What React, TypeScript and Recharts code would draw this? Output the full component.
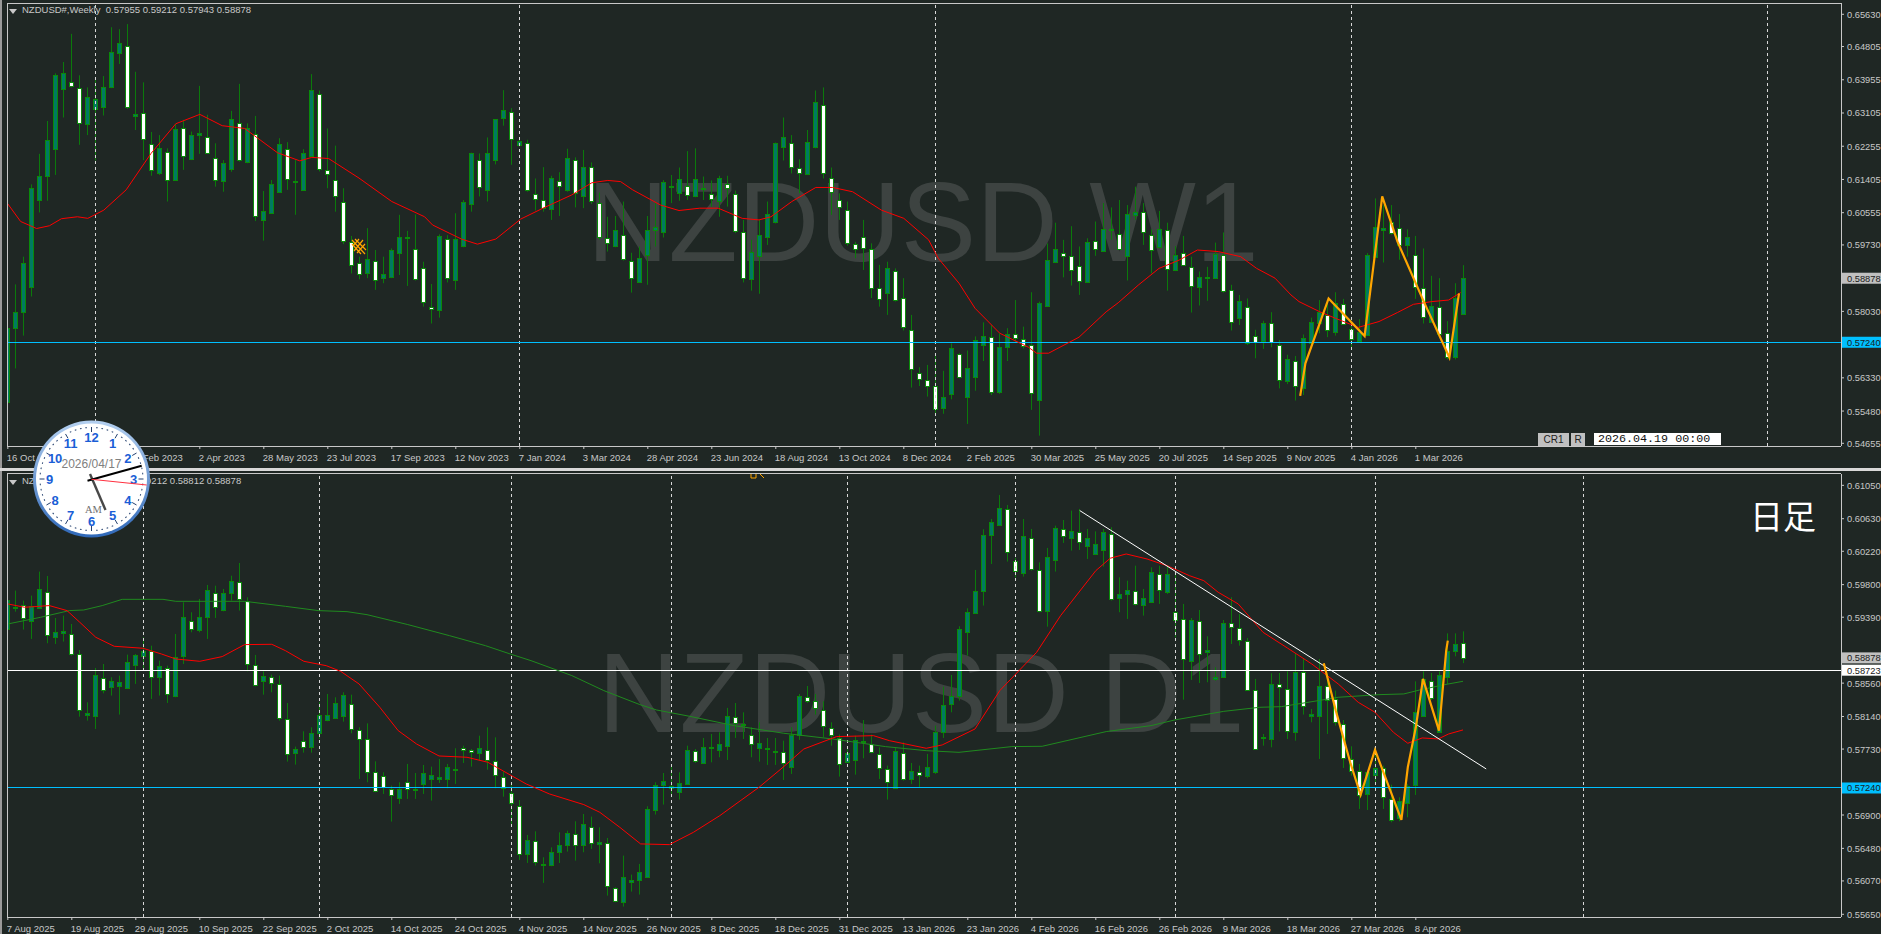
import React from "react";
import { Bar, ComposedChart, Line, ReferenceLine, XAxis, YAxis } from "recharts";

// all quotes below are in points: weekly 1e-4, daily 1e-5. [open, high, low, close]
const weeklyQuotes = [
  [5572,5771,5551,5760],[5760,5872,5657,5802],[5802,5943,5741,5926],[5865,6128,5841,6118],[6088,6206,6056,6150],[6150,6290,6086,6241],[6218,6412,6152,6407],[6371,6441,6299,6412],
  [6390,6513,6376,6380],[6375,6407,6229,6285],[6282,6376,6254,6351],[6320,6395,6189,6346],[6325,6405,6304,6378],[6376,6530,6374,6467],[6463,6525,6436,6489],[6483,6538,6321,6325],
  [6304,6416,6267,6307],[6311,6389,6190,6244],[6230,6262,6150,6165],[6156,6254,6152,6220],[6212,6220,6084,6139],[6138,6283,6137,6269],[6271,6293,6165,6200],[6192,6263,6190,6253],
  [6253,6380,6206,6259],[6248,6306,6206,6208],[6196,6233,6122,6139],[6136,6190,6109,6182],[6168,6316,6160,6295],[6285,6385,6186,6190],[6186,6284,6182,6273],[6257,6303,6034,6047],
  [6036,6111,5984,6059],[6054,6139,6052,6128],[6109,6246,6107,6232],[6219,6236,6114,6142],[6133,6190,6050,6136],[6113,6218,6111,6207],[6201,6410,6199,6369],[6360,6368,6161,6167],
  [6165,6271,6118,6154],[6139,6227,6058,6097],[6084,6118,5975,5983],[5981,5996,5900,5922],[5928,5943,5885,5899],[5902,6016,5888,5936],[5933,5960,5858,5883],[5889,5943,5875,5898],
  [5892,5964,5888,5959],[5953,6050,5896,5994],[5994,6009,5868,5990],[5963,6051,5882,5885],[5915,5930,5815,5826],[5814,5873,5772,5809],[5807,6000,5787,5995],[5989,5998,5877,5888],
  [5883,6054,5858,5987],[5970,6088,5967,6082],[6077,6209,6058,6207],[6189,6207,6097,6122],[6113,6248,6084,6207],[6191,6295,6179,6294],[6297,6369,6278,6318],[6314,6323,6178,6244],
  [6228,6242,6225,6238],[6235,6242,6109,6114],[6104,6143,6061,6091],[6088,6172,6058,6068],[6065,6150,6037,6145],[6137,6159,6047,6124],[6113,6219,6109,6195],[6191,6197,6069,6107],
  [6097,6216,6067,6173],[6173,6184,6078,6086],[6081,6107,5986,5994],[5991,6045,5956,5977],[5970,6047,5967,6010],[5999,6084,5933,5937],[5932,5953,5851,5889],[5879,5969,5879,5939],
  [5947,6047,5871,6010],[6010,6080,5969,6018],[6005,6139,5992,6133],[6125,6152,6080,6121],[6107,6171,6086,6141],[6124,6213,6088,6100],[6097,6220,6095,6141],[6116,6148,6088,6119],
  [6104,6138,6071,6091],[6085,6150,6045,6143],[6129,6150,6071,6119],[6104,6112,6003,6009],[6007,6037,5877,5888],[5885,5986,5856,5956],[5945,6037,5848,5998],[5994,6084,5973,6051],
  [6031,6235,6028,6233],[6223,6299,6189,6248],[6235,6254,6156,6172],[6171,6192,6105,6156],[6154,6267,6152,6236],[6223,6368,6220,6338],[6332,6376,6143,6156],[6145,6171,6050,6109],
  [6089,6105,6037,6069],[6063,6084,5971,5977],[5976,5981,5939,5962],[5994,6037,5909,5964],[5963,5977,5837,5863],[5864,5922,5815,5834],[5851,5930,5794,5915],[5907,5913,5828,5832],
  [5836,5888,5754,5763],[5756,5794,5608,5656],[5646,5660,5612,5629],[5628,5666,5585,5612],[5613,5696,5542,5553],[5555,5651,5541,5583],[5591,5721,5578,5709],[5693,5696,5632,5635],
  [5583,5703,5515,5657],[5636,5739,5600,5729],[5716,5775,5676,5739],[5738,5768,5589,5596],[5598,5747,5592,5711],[5711,5760,5676,5744],[5744,5832,5725,5734],[5733,5764,5708,5715],
  [5716,5852,5551,5594],[5576,5828,5485,5824],[5818,5977,5814,5934],[5930,6030,5930,5962],[5953,5986,5890,5944],[5945,6021,5869,5908],[5920,5969,5845,5881],[5879,5990,5877,5981],
  [5984,6033,5945,5962],[5958,6080,5956,6013],[6011,6069,5986,6014],[6002,6088,5960,5963],[5944,6075,5882,6051],[6049,6122,6037,6057],[6057,6080,5973,6005],[5999,6013,5900,5959],
  [5967,6060,5964,6015],[6010,6030,5856,5911],[5908,5970,5906,5947],[5953,5996,5919,5922],[5917,5943,5800,5868],[5865,5905,5818,5890],[5889,5917,5830,5891],[5889,5979,5888,5951],
  [5947,6005,5851,5854],[5858,5871,5754,5775],[5785,5845,5768,5830],[5815,5836,5717,5723],[5741,5756,5683,5724],[5728,5779,5707,5772],[5772,5801,5711,5724],[5718,5730,5606,5627],
  [5626,5692,5617,5680],[5677,5689,5575,5612],[5606,5744,5589,5734],[5723,5787,5717,5775],[5774,5832,5747,5802],[5794,5828,5737,5756],[5749,5852,5741,5825],[5822,5835,5768,5771],
  [5758,5779,5710,5732],[5726,5783,5724,5751],[5743,5952,5741,5946],[5943,6092,5941,6020],[6010,6075,5928,6016],[6032,6075,5999,6003],[6016,6052,5935,5973],[5973,6013,5943,5993],
  [5946,5996,5835,5866],[5864,5964,5772,5788],[5777,5894,5774,5817],[5815,5888,5738,5745],[5747,5778,5680,5686],[5687,5875,5680,5837],[5795.5,5921.2,5794.3,5887.8],
];

const dailyQuotes = [
  [59242,59620,59229,59607],[59523,59725,59460,59506],[59544,59599,59234,59376],[59338,59662,59116,59536],[59506,59964,59494,59741],[59712,59909,59062,59162],[59137,59380,59053,59200],[59187,59410,59083,59213],
  [59179,59305,58906,58923],[58931,58978,58138,58222],[58164,58319,58088,58180],[58143,58751,57983,58659],[58629,58801,58432,58470],[58508,58634,58403,58592],[58520,58655,58164,58571],[58495,58919,58487,58822],
  [58785,58927,58550,58910],[58906,59137,58717,58961],[58969,59032,58361,58634],[58634,58843,58403,58772],[58747,58780,58310,58420],[58394,59179,58382,58894],[58906,59578,58801,59389],[59347,59452,59200,59242],
  [59234,59620,59200,59389],[59397,59796,59116,59729],[59699,59787,59380,59519],[59477,59746,59464,59691],[59691,59913,59599,59842],[59829,60073,59473,59615],[59594,59641,58709,58801],[58793,58915,58520,58537],
  [58587,58709,58415,58646],[58642,58667,58445,58562],[58550,58655,58088,58117],[58109,58310,57572,57669],[57677,57761,57534,57727],[57836,57954,57685,57757],[57761,58004,57685,57929],[57937,58319,57857,58155],
  [58092,58424,58080,58155],[58126,58382,58109,58306],[58151,58445,58075,58407],[58298,58415,57929,57983],[57975,58004,57354,57857],[57861,58054,57312,57442],[57442,57576,57186,57203],[57396,57438,57165,57253],
  [57228,57270,56817,57152],[57110,57312,57039,57228],[57320,57543,57102,57232],[57211,57429,57102,57228],[57287,57530,57165,57425],[57358,57509,57081,57400],[57350,57605,57303,57375],[57350,57543,57236,57509],
  [57463,57740,57291,57476],[57748,57773,57555,57715],[57715,57731,57509,57694],[57685,57899,57585,57748],[57723,58004,57471,57589],[57585,57878,57236,57400],[57383,57450,57131,57236],[57182,57291,56787,57052],
  [57018,57089,56334,56410],[56410,56649,56296,56590],[56578,56695,56263,56305],[56288,56368,56045,56267],[56267,56493,56255,56431],[56431,56682,56296,56519],[56519,56703,56439,56670],[56666,56821,56326,56523],
  [56519,56913,56431,56783],[56754,56880,56473,56548],[56540,56745,56292,56557],[56552,56611,55885,56003],[55986,55990,55801,55818],[55801,56389,55747,56116],[56053,56150,55936,56078],[56087,56284,55898,56179],
  [56124,57010,56116,56976],[56968,57312,56905,57274],[57274,57429,57031,57324],[57245,57513,57123,57261],[57186,57438,57094,57299],[57291,57773,57282,57715],[57710,57731,57555,57576],[57551,57870,57543,57752],
  [57748,57920,57563,57757],[57723,57941,57627,57790],[57773,58248,57593,58143],[58138,58310,57870,58063],[58050,58193,57857,58034],[57912,58004,57627,57790],[57748,58067,57572,57803],[57748,57870,57530,57727],
  [57689,57870,57530,57702],[57698,57836,57341,57551],[57501,58004,57417,57912],[57912,58424,57845,58394],[58390,58524,58310,58331],[58340,58424,58164,58243],[58227,58331,57878,58017],[58000,58067,57773,57903],
  [57870,57912,57383,57543],[57572,57744,57555,57685],[57589,57899,57408,57849],[57824,58096,57614,57832],[57790,57912,57677,57694],[57673,57752,57354,57492],[57484,57522,57094,57312],[57245,57752,57236,57702],
  [57685,57815,57333,57350],[57350,57555,57291,57459],[57446,57522,57241,57404],[57396,57669,57362,57509],[57438,58025,57417,57950],[57941,58516,57870,58290],[58294,58663,58193,58399],[58403,59276,58340,59238],
  [59208,59502,58906,59460],[59439,59985,59431,59716],[59716,60497,59536,60421],[60421,60627,60060,60585],[60547,60929,60538,60761],[60757,60803,60090,60211],[60102,60136,59892,59972],[59943,60627,59901,60408],
  [60392,60501,59976,59997],[59985,60081,59452,59469],[59464,60262,59271,60153],[60106,60543,59964,60509],[60501,60614,60325,60413],[60383,60732,60228,60471],[60467,60753,60236,60337],[60291,60501,60123,60383],
  [60182,60471,60173,60308],[60232,60501,60027,60459],[60442,60522,59599,59620],[59628,59892,59452,59687],[59678,59850,59368,59729],[59725,60039,59536,59557],[59540,59746,59410,59636],[59586,60018,59578,59955],
  [59938,60039,59557,59729],[59712,60027,59683,59930],[59460,59955,59137,59351],[59372,59557,58352,58864],[58835,59380,58600,59359],[59347,59481,58562,58927],[58957,59150,58571,58973],[58617,58759,58592,58634],
  [58634,59355,58625,59322],[59322,59641,59053,59267],[59259,59431,59032,59104],[59095,59129,58466,58478],[58478,58613,57719,57727],[57887,57920,57773,57866],[57861,58684,57752,58545],[58545,58688,57951,58516],
  [58491,58709,57857,57954],[57950,58936,57836,58696],[58701,58864,58164,58268],[58151,58235,58067,58168],[58151,58864,57605,58520],[58529,58676,57920,58352],[58357,58466,58025,58067],[58046,58096,57492,57614],
  [57605,57765,57396,57450],[57459,57543,56976,57157],[57169,57459,56963,57438],[57408,57761,57291,57492],[57492,57522,56976,57123],[57106,57282,56808,56842],[56863,57123,56821,57073],[57056,57291,56871,57261],
  [57282,58583,57152,58201],[58151,58709,58147,58613],[58583,58688,58348,58369],[57950,58709,57941,58663],[58642,59187,58550,58969],[58969,59187,58898,59049],[59070,59212,58812,58878],
];

// [bar position, value]
const weeklyRedMa = [
  [0,6078],[1.6,6033],[3.6,6015],[5.2,6022],[6.7,6040],[8.7,6045],[10,6041],[12,6062],[14.8,6114],[17.9,6207],[21,6283],[24,6307],[26.8,6278],[29.6,6271],[33.7,6209],[36.5,6188],[38,6197],[40.1,6194],[43.9,6144],[48,6084],[52.1,6045],[53.1,6024],[56.7,5988],[58.7,5975],[61,5988],[64.1,6039],[66.9,6067],[70.5,6101],[73,6132],[75,6138],[76.6,6135],
  [78.1,6114],[81.6,6075],[83.9,6061],[86.5,6067],[88.8,6067],[91.8,6041],[93.9,6037],[95.4,6045],[98,6084],[101,6120],[103.1,6120],[105.6,6109],[109.2,6062],[112,6041],[115.1,5986],[116.3,5939],[118.9,5875],[120.9,5811],[124,5747],[127.6,5711],[128.6,5696],[130.1,5696],[133.9,5737],[137.3,5802],[138.8,5825],[141.3,5870],[143.9,5913],[146.4,5934],[148.7,5960],[151.3,5956],[154.1,5943],
  [156.1,5913],[158.4,5888],[160.4,5845],[161.4,5828],[164,5802],[166,5785],[168.8,5762],[171.4,5777],[173.7,5800],[175.7,5821],[178,5828],[180.1,5832],[181.6,5851],
];
const weeklyZigzag = [[161.55,5587],[162.2,5670],[165.1,5836],[169.6,5740],[171.8,6097],[173.7,5982],[177,5828],[180.2,5685],[181.4,5849]];

const dailyRedMa = [
  [0,59557],[2.1,59515],[5.2,59536],[7.4,59473],[9,59326],[11,59137],[13.3,59024],[16.9,58999],[19.2,58927],[21,58864],[24,58835],[26.8,58894],[29.6,59045],[33,59049],[34.7,58969],[37,58835],[39.8,58780],[41.6,58709],[43.9,58550],[46.5,58256],[48.8,57962],[51.1,57794],[53.9,57643],[57.4,57627],[60,57564],[62,57450],[64.8,57291],[67.7,57165],[72,57031],[74,56934],[76.5,56745],
  [79.1,56536],[82.7,56527],[85.7,56682],[89,56892],[93.9,57249],[96.9,57501],[99.5,57731],[103.6,57887],[108.2,57899],[110.2,57836],[114.8,57740],[116.8,57782],[120.9,57983],[124,58466],[128.6,58948],[131.6,59410],[136,59976],[137.8,60132],[139.8,60186],[142.4,60123],[144.9,60039],[147.7,59913],[149.5,59850],[151.3,59704],[153.8,59557],
  [156.9,59200],[160,58999],[163,58801],[166.3,58550],[168.8,58319],[170.9,58193],[173.2,57941],[175,57803],[176.8,57870],[178.8,57857],[180.1,57920],[181.9,57971],
];
const dailyGreenMa = [
  [0,59305],[4.1,59389],[7.7,59473],[9.5,59481],[11.8,59536],[14.3,59615],[19.4,59615],[21,59590],[29.6,59590],[34.7,59527],[38.8,59473],[42.4,59460],[44.9,59422],[50,59297],[55.2,59158],[59.7,59032],[62.8,58927],[65.4,58843],[70.5,58655],[74.5,58466],[79,58290],
  [81.1,58222],[85.2,58143],[90.8,58025],[97,57929],[103.1,57857],[109.7,57761],[114.8,57710],[118.9,57689],[125.5,57761],[129.3,57765],[137.3,57950],[142.9,58025],[145.9,58097],[152,58205],[156.5,58256],
  [159.2,58264],[164.3,58348],[166.3,58382],[171.4,58415],[174.5,58424],[176.5,58474],[179.6,58541],[181.9,58583],
];
const dailyZigzag = [[164.5,58810],[166,58214],[167.8,57564],[169.1,57152],[170.9,57719],[174.2,56838],[175,57501],[176,58004],[176.9,58613],[178.9,57962],[179.8,58969],[180,59095]];
const dailyTrend = [[134,60732],[184.8,57480]];

const weeklyDates = ["16 Oct 2022","11 Dec 2022","5 Feb 2023","2 Apr 2023","28 May 2023","23 Jul 2023","17 Sep 2023","12 Nov 2023","7 Jan 2024","3 Mar 2024","28 Apr 2024","23 Jun 2024","18 Aug 2024","13 Oct 2024","8 Dec 2024","2 Feb 2025","30 Mar 2025","25 May 2025","20 Jul 2025","14 Sep 2025","9 Nov 2025","4 Jan 2026","1 Mar 2026"];
const dailyDates = ["7 Aug 2025","19 Aug 2025","29 Aug 2025","10 Sep 2025","22 Sep 2025","2 Oct 2025","14 Oct 2025","24 Oct 2025","4 Nov 2025","14 Nov 2025","26 Nov 2025","8 Dec 2025","18 Dec 2025","31 Dec 2025","13 Jan 2026","23 Jan 2026","4 Feb 2026","16 Feb 2026","26 Feb 2026","9 Mar 2026","18 Mar 2026","27 Mar 2026","8 Apr 2026"];
const weeklyPriceTicks = [0.6563,0.64805,0.63955,0.63105,0.62255,0.61405,0.60555,0.5973,0.5803,0.5633,0.5548,0.54655];
const dailyPriceTicks = [0.6105,0.6063,0.6022,0.598,0.5939,0.5856,0.5814,0.5773,0.569,0.5648,0.5607,0.5565];
const weeklySeparators = [11,64,116,168,220];
const dailySeparators = [17,39,63,83,105,126,146,171,197];

const BG = "#1f2724";
const GREY = "#c8c8c8";
const FONT = "Tahoma, 'Liberation Sans', Arial, sans-serif";

const toRows = (quotes: number[][], unit: number) =>
  quotes.map(([open, high, low, close], index) => ({
    index,
    open: open / unit,
    high: high / unit,
    low: low / unit,
    close: close / unit,
  }));
const toPoints = (points: number[][], unit: number) => points.map(([index, v]) => ({ index, value: v / unit }));

function Candle(props: any) {
  const { x, y, width, height, payload } = props;
  const c = Math.floor(x + width / 2) + 0.5;
  const perUnit = height / (payload.high - payload.low);
  const up = payload.close >= payload.open;
  const top = Math.round(y + (payload.high - Math.max(payload.open, payload.close)) * perUnit) + 0.5;
  const bottom = Math.max(Math.round(y + (payload.high - Math.min(payload.open, payload.close)) * perUnit) + 0.5, top + 1);
  return (
    <g>
      <line x1={c} x2={c} y1={y} y2={y + height} stroke="#0b7a0b" strokeWidth={1} />
      <rect x={c - 2} y={top} width={4} height={bottom - top} fill={up ? "#007a62" : "#ffffff"} stroke="#0a8a0a" strokeWidth={1} />
    </g>
  );
}

const priceTag = (text: string, bg: string) => (props: any) => {
  const { viewBox } = props;
  const cy = viewBox.y;
  const left = viewBox.x + viewBox.width + 1;
  return (
    <g>
      <rect x={left} y={cy - 5.5} width={40} height={11} fill={bg} />
      <text x={left + 5} y={cy + 3.5} fontSize={9.3} fontFamily={FONT} fill="#1a1a1a">{text}</text>
    </g>
  );
};

function Panel(props: {
  rows: any[];
  dates: string[];
  priceTicks: number[];
  separators: number[];
  domain: number[];
  height: number;
  top: number;
  xAxisHeight: number;
  tags: { value: number; text: string; bg: string; line?: string }[];
  lines: { points: any[]; color: string; width: number }[];
}) {
  const tickValues = props.dates.map((_, i) => i * 8);
  return (
    <ComposedChart
      width={1881}
      height={props.height}
      data={props.rows}
      margin={{ top: props.top, right: 0, left: 7, bottom: 0 }}
    >
      <XAxis
        dataKey="index"
        type="number"
        scale="linear"
        domain={[-0.1, 229.15]}
        ticks={tickValues}
        interval={0}
        height={props.xAxisHeight}
        stroke={GREY}
        axisLine={{ shapeRendering: "crispEdges" }}
        tickSize={3}
        allowDataOverflow
        tick={(t: any) => (
          <text x={t.x - 1} y={t.y + 9.5} fontSize={9.5} fontFamily={FONT} fill={GREY}>
            {props.dates[t.payload.value / 8]}
          </text>
        )}
      />
      <YAxis
        orientation="right"
        type="number"
        domain={props.domain}
        ticks={props.priceTicks}
        interval={0}
        width={40}
        stroke={GREY}
        axisLine={{ shapeRendering: "crispEdges" }}
        tickSize={3}
        allowDataOverflow
        tick={(t: any) => (
          <text x={t.x + 1} y={t.y + 3.5} fontSize={9.3} fontFamily={FONT} fill={GREY}>
            {t.payload.value.toFixed(5)}
          </text>
        )}
      />
      {props.separators.map((s) => (
        <ReferenceLine key={s} x={s} stroke="#d8d8d8" strokeDasharray="3 3" shapeRendering="crispEdges" />
      ))}
      <Bar
        dataKey={(d: any) => [d.low, d.high]}
        barSize={6}
        shape={Candle}
        isAnimationActive={false}
      />
      {props.tags.map((t) => (
        <ReferenceLine
          key={t.text}
          y={t.value}
          stroke={t.line ?? "none"}
          strokeWidth={1}
          shapeRendering="crispEdges"
          label={priceTag(t.text, t.bg)}
        />
      ))}
      {props.lines.map((l, i) => (
        <Line
          key={i}
          data={l.points}
          dataKey="value"
          stroke={l.color}
          strokeWidth={l.width}
          dot={false}
          activeDot={false}
          isAnimationActive={false}
          legendType="none"
        />
      ))}
    </ComposedChart>
  );
}

const watermark = (left: number, top: number): React.CSSProperties => ({
  position: "absolute",
  left,
  top,
  fontFamily: "'Liberation Sans', Arial, sans-serif",
  fontSize: 113,
  lineHeight: "114px",
  color: "#3d4341",
  whiteSpace: "pre",
});

const legendStyle = (top: number): React.CSSProperties => ({
  position: "absolute",
  left: 22,
  top,
  fontFamily: FONT,
  fontSize: 9.5,
  color: GREY,
  whiteSpace: "pre",
});

function box(left: number, top: number, width: number, height: number, background: string): React.CSSProperties {
  return { position: "absolute", left, top, width, height, background };
}

const clockNumbers = [12, 1, 2, 3, 4, 5, 6, 7, 8, 9, 10, 11];

function Clock() {
  const cx = 91.5;
  const cy = 479;
  const dial = (deg: number, r: number) => ({
    x: cx + r * Math.sin((deg * Math.PI) / 180),
    y: cy - r * Math.cos((deg * Math.PI) / 180),
  });
  return (
    <svg width={170} height={560} style={{ position: "absolute", left: 0, top: 0 }}>
      <defs>
        <linearGradient id="ring" x1="0" y1="0" x2="0" y2="1">
          <stop offset="0" stopColor="#b4d0f0" />
          <stop offset="1" stopColor="#2f68b8" />
        </linearGradient>
      </defs>
      <circle cx={cx} cy={cy} r={58.5} fill="url(#ring)" />
      <circle cx={cx} cy={cy} r={55.5} fill="#ffffff" />
      {Array.from({ length: 60 }, (_, i) => {
        const a = dial(i * 6, 52);
        const big = i % 5 === 0;
        const b = dial(i * 6, big ? 47 : 51);
        return <line key={i} x1={a.x} y1={a.y} x2={b.x} y2={b.y} stroke="#24406e" strokeWidth={big ? 1 : 1.6} />;
      })}
      {clockNumbers.map((n, i) => {
        const p = dial(i * 30, 42);
        return (
          <text key={n} x={p.x} y={p.y + 5} textAnchor="middle" fontSize={13} fontWeight={700} fontFamily="'Liberation Sans', Arial" fill="#1a5ed6">
            {n}
          </text>
        );
      })}
      <text x={cx} y={468} textAnchor="middle" fontSize={12} fontFamily="'Liberation Sans', Arial" fill="#808080">2026/04/17</text>
      <text x={cx + 2} y={513} textAnchor="middle" fontSize={10.5} fontFamily="'Liberation Serif', serif" fill="#707070">AM</text>
      <line x1={90} y1={474} x2={105.5} y2={510} stroke="#484848" strokeWidth={2.4} />
      <line x1={87.5} y1={480.7} x2={141.7} y2={465.7} stroke="#000000" strokeWidth={2} />
      <line x1={91.5} y1={479.3} x2={146.7} y2={485} stroke="#ff3040" strokeWidth={1} />
    </svg>
  );
}

export default function App() {
  const weeklyRows = toRows(weeklyQuotes, 10000);
  const dailyRows = toRows(dailyQuotes, 100000);
  return (
    <div style={{ position: "absolute", left: 0, top: 0, width: 1881, height: 934, background: BG, overflow: "hidden" }}>
      <div style={watermark(587, 165)}>NZDUSD W1</div>
      <div style={watermark(598, 636)}>NZDUSD D1</div>

      <div style={{ position: "absolute", left: 0, top: 0 }}>
        <Panel
          rows={weeklyRows}
          dates={weeklyDates}
          priceTicks={weeklyPriceTicks}
          separators={weeklySeparators}
          domain={[0.54586, 0.65919]}
          height={464}
          top={3}
          xAxisHeight={18}
          tags={[
            { value: 0.58878, text: "0.58878", bg: "#c0c0c0" },
            { value: 0.5724, text: "0.57240", bg: "#00bfff", line: "#00bfff" },
          ]}
          lines={[
            { points: toPoints(weeklyRedMa, 10000), color: "#ff0000", width: 1 },
            { points: toPoints(weeklyZigzag, 10000), color: "#ffa500", width: 2.2 },
          ]}
        />
      </div>
      <div style={{ position: "absolute", left: 0, top: 464 }}>
        <Panel
          rows={dailyRows}
          dates={dailyDates}
          priceTicks={dailyPriceTicks}
          separators={dailySeparators}
          domain={[0.55616, 0.61199]}
          height={470}
          top={9.5}
          xAxisHeight={17}
          tags={[
            { value: 0.58878, text: "0.58878", bg: "#c0c0c0" },
            { value: 0.58723, text: "0.58723", bg: "#ffffff", line: "#ffffff" },
            { value: 0.5724, text: "0.57240", bg: "#00bfff", line: "#00bfff" },
          ]}
          lines={[
            { points: toPoints(dailyGreenMa, 100000), color: "#1f8a1f", width: 1 },
            { points: toPoints(dailyRedMa, 100000), color: "#ff0000", width: 1 },
            { points: toPoints(dailyTrend, 100000), color: "#ffffff", width: 1 },
            { points: toPoints(dailyZigzag, 100000), color: "#ffa500", width: 2.2 },
          ]}
        />
      </div>

      {/* window frame */}
      <div style={box(0, 0, 7, 934, BG)} />
      <div style={box(0, 0, 2, 934, "#9a9a9a")} />
      <div style={box(7, 3, 1834, 1, GREY)} />
      <div style={box(7, 3, 1, 443, GREY)} />
      <div style={box(7, 473, 1834, 1, GREY)} />
      <div style={box(7, 473, 1, 444, GREY)} />
      <div style={box(0, 468, 1881, 3, "#d8d8d8")} />

      <div style={legendStyle(4)}>{"NZDUSD#,Weekly  0.57955 0.59212 0.57943 0.58878"}</div>
      <div style={legendStyle(475)}>{"NZDUSD#,Daily  0.59070 0.59212 0.58812 0.58878"}</div>
      <svg width={10} height={6} style={{ position: "absolute", left: 9, top: 9 }}><path d="M0 0H8L4 5Z" fill={GREY} /></svg>
      <svg width={10} height={6} style={{ position: "absolute", left: 9, top: 480 }}><path d="M0 0H8L4 5Z" fill={GREY} /></svg>

      <svg width={16} height={18} style={{ position: "absolute", left: 351, top: 238 }}>
        <path d="M1 2L14 16M4 1L15 12M1 6L10 16M12 2L3 13M8 1L2 8M14 6L6 15" stroke="#ffa500" strokeWidth={1.2} fill="none" />
      </svg>
      <svg width={16} height={6} style={{ position: "absolute", left: 750, top: 474 }}>
        <path d="M1 0V4H6V0M10 0L14 4" stroke="#ffa500" strokeWidth={1} fill="none" />
      </svg>

      <div style={{ position: "absolute", left: 1750, top: 492, fontFamily: "'Noto Sans CJK JP', sans-serif", fontSize: 33, lineHeight: "46px", color: "#ffffff" }}>日足</div>

      <div style={{ ...box(1538, 433, 31, 13, "#c0c0c0"), fontFamily: FONT, fontSize: 10, lineHeight: "13px", color: "#222", textAlign: "center" }}>CR1</div>
      <div style={{ ...box(1571, 433, 14, 13, "#c0c0c0"), fontFamily: FONT, fontSize: 10, lineHeight: "13px", color: "#222", textAlign: "center" }}>R</div>
      <div style={{ ...box(1594, 433, 127, 12, "#ffffff"), fontFamily: "'Liberation Mono', monospace", fontSize: 11.7, lineHeight: "12px", color: "#111", paddingLeft: 4, boxSizing: "border-box" }}>2026.04.19 00:00</div>

      <Clock />
    </div>
  );
}
